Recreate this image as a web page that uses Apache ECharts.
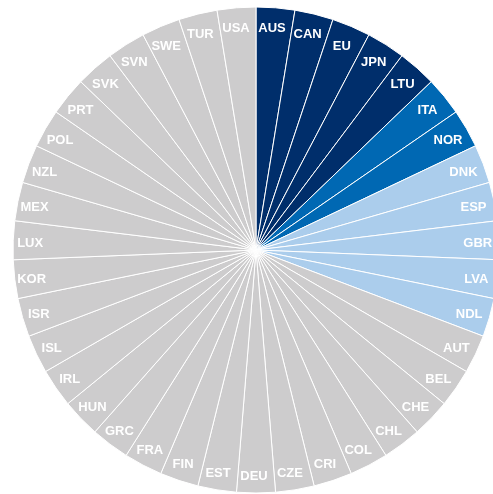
<!DOCTYPE html>
<html><head><meta charset="utf-8">
<script src="https://cdn.jsdelivr.net/npm/echarts@6/dist/echarts.min.js"></script>
<style>html,body{margin:0;padding:0;background:#fff}#c{width:493px;height:494px}</style>
</head><body><div id="c"></div>
<script>
const categories = ["AUS","CAN","EU","JPN","LTU","ITA","NOR","DNK","ESP","GBR","LVA","NDL","AUT","BEL","CHE","CHL","COL","CRI","CZE","DEU","EST","FIN","FRA","GRC","HUN","IRL","ISL","ISR","KOR","LUX","MEX","NZL","POL","PRT","SVK","SVN","SWE","TUR","USA"];
const values = categories.map(() => 1);
const groups = [0,0,0,0,0,1,1,2,2,2,2,2,3,3,3,3,3,3,3,3,3,3,3,3,3,3,3,3,3,3,3,3,3,3,3,3,3,3,3];
const palette = ["#002E6B", "#0068B3", "#ABCDEC", "#CDCCCD"];

const baseData = categories.map((n, i) => ({ name: n, value: values[i], itemStyle: { color: palette[groups[i]] } }));
const labelData = categories.map((n, i) => ({ name: n, value: values[i] }));

const chart = echarts.init(document.getElementById('c'), null, { renderer: 'canvas' });
chart.setOption({
  animation: false,
  series: [
    {
      type: 'pie', center: [256, 250], radius: [0, 243], startAngle: 90, clockwise: true,
      silent: true, label: { show: false }, labelLine: { show: false },
      itemStyle: { borderColor: '#fff', borderWidth: 1 },
      data: baseData
    },
    {
      type: 'pie', center: [254, 252], radius: [199, 243], startAngle: 90, clockwise: true,
      silent: true,
      itemStyle: { color: 'rgba(0,0,0,0)', borderWidth: 0 },
      label: { show: true, position: 'inside', color: '#fff', fontFamily: '"Liberation Sans", Arial, sans-serif', fontSize: 13, fontWeight: 'bold', formatter: '{b}' },
      labelLine: { show: false },
      data: labelData
    }
  ]
});
</script></body></html>
